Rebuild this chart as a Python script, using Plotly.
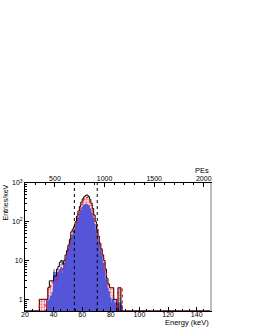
import plotly.graph_objects as go
import math

# ---- data (1 keV bins, low edges) ----
bin_low = list(range(30, 89))
black_total = [1, 1, 1, 1, 1, 1, 2, 3, 3, 3, 4, 4, 6, 7, 9, 10, 8, 10, 14, 18,
               25, 35, 55, 65, 75, 100, 140, 190, 250, 320, 390, 440, 480, 490, 450, 380, 300, 220, 150, 100,
               65, 42, 28, 20, 14, 10, 6, 3.5, 2.5, 2, 2, 2, 1, 1, 0, 2, 2, 0, 0]
red_series = [1, 1, 1, 1, 0, 1, 2, 2, 2.5, 3, 3, 3, 4, 5, 6, 6, 6, 8, 11, 15,
              21, 30, 45, 55, 65, 85, 120, 165, 215, 275, 340, 385, 420, 425, 395, 330, 265, 195, 135, 90,
              58, 38, 25, 18, 12, 9, 5, 3, 2, 2, 2, 2, 1, 1, 0, 2, 2, 2, 0]
lightblue_series = [0, 0, 0, 0, 0, 1, 1, 1.2, 1.5, 2, 6, 5, 5, 6, 6, 8, 6, 9, 12, 16,
                    22, 31, 42, 50, 60, 78, 102, 135, 172, 215, 255, 285, 298, 292, 272, 230, 183, 135, 96, 66,
                    45, 31, 21, 15, 10, 6.5, 4, 2.5, 2, 1.4, 1, 1.2, 1, 1, 0.8, 1, 1, 0.9, 0]
blue_series = [0, 0, 0, 0, 0, 0.9, 0.9, 1, 1.2, 1.5, 5, 4, 3.5, 5, 4.5, 6.5, 4.5, 8, 10, 14,
               20, 28, 38, 45, 55, 72, 95, 125, 160, 200, 240, 268, 280, 275, 255, 215, 170, 125, 88, 60,
               40, 28, 18, 13, 8.5, 5.5, 3.2, 2, 1.6, 1.1, 0.8, 1, 0.8, 0.8, 0.6, 0.8, 0.8, 0.7, 0]
bin_width = 1
x_range = [20, 150]
pe_range = [198, 2073]
cut_lines = [54.5, 70.5]
x_ticks = [20, 40, 60, 80, 100, 120, 140]
pe_ticks = [500, 1000, 1500, 2000]
y_ticks = [1, 10, 100, 1000]
y_ticktext = ["1", "10", "10<sup>2</sup>", "10<sup>3</sup>"]
y_min = 0.5

FONT = "Liberation Sans, Arial, sans-serif"
TICKFONT = dict(family=FONT, size=7, color="black")


def step_xy(values):
    xs, ys = [x_range[0]], [y_min]
    for lo, v in zip(bin_low, values):
        xs.append(lo)
        ys.append(v if v > 0 else y_min)
    xs.append(bin_low[-1] + bin_width)
    ys.append(y_min)
    xs.append(x_range[1])
    ys.append(y_min)
    return xs, ys


def bar_y(values):
    return [v if v > 0 else None for v in values]


centers = [b + bin_width / 2 for b in bin_low]

fig = go.Figure()

fig.add_trace(go.Bar(x=centers, y=bar_y(red_series), width=bin_width,
                     marker=dict(color="rgb(255,225,225)", line=dict(width=0),
                                 pattern=dict(shape=".", fgcolor="red", bgcolor="rgb(255,240,240)",
                                              size=3, solidity=0.45)),
                     showlegend=False, hoverinfo="skip"))
fig.add_trace(go.Bar(x=centers, y=bar_y(lightblue_series), width=bin_width,
                     marker=dict(color="rgb(175,185,240)", line=dict(width=0)),
                     showlegend=False, hoverinfo="skip"))
fig.add_trace(go.Bar(x=centers, y=bar_y(blue_series), width=bin_width,
                     marker=dict(color="rgb(85,85,215)", line=dict(width=0)),
                     showlegend=False, hoverinfo="skip"))

bx, by = step_xy(blue_series)
fig.add_trace(go.Scatter(x=bx, y=by, mode="lines", line=dict(color="rgb(85,85,215)", width=1, shape="hv"),
                         showlegend=False, hoverinfo="skip"))
kx, ky = step_xy(black_total)
fig.add_trace(go.Scatter(x=kx, y=ky, mode="lines", line=dict(color="black", width=1, shape="hv"),
                         showlegend=False, hoverinfo="skip"))
rx, ry = step_xy(red_series)
fig.add_trace(go.Scatter(x=rx, y=ry, mode="lines", line=dict(color="red", width=1, shape="hv", dash="dot"),
                         showlegend=False, hoverinfo="skip"))

fig.add_trace(go.Scatter(x=pe_range, y=[1, 1], xaxis="x2", mode="lines",
                         line=dict(width=0), opacity=0, showlegend=False, hoverinfo="skip"))

minor_y = [m * 10 ** d for d in range(-1, 3) for m in range(2, 10) if 0.5 <= m * 10 ** d <= 1000]

fig.update_layout(
    width=253, height=327,
    margin=dict(l=25, r=42, t=183, b=16, autoexpand=False),
    paper_bgcolor="white", plot_bgcolor="white",
    font=dict(family=FONT, size=7, color="black"),
    bargap=0, barmode="overlay",
    showlegend=False,
    xaxis=dict(range=x_range, tickvals=x_ticks, ticks="inside", ticklen=4, tickwidth=1,
               tickcolor="black", showline=True, linecolor="black", linewidth=1, mirror=True,
               showgrid=False, zeroline=False, tickfont=TICKFONT, automargin=False,
               ticklabelstandoff=-3,
               minor=dict(dtick=5, ticks="inside", ticklen=2, tickcolor="black")),
    xaxis2=dict(range=pe_range, overlaying="x", side="top", tickvals=pe_ticks, ticks="inside",
                ticklen=4, tickwidth=1, tickcolor="black", showgrid=False, zeroline=False,
                showline=False, tickfont=TICKFONT, automargin=False, ticklabelstandoff=0,
                minor=dict(dtick=100, tick0=0, ticks="inside", ticklen=2, tickcolor="black")),
    yaxis=dict(type="log", range=[math.log10(y_min), 3], tickvals=y_ticks, ticktext=y_ticktext,
               ticks="inside", ticklen=4, tickwidth=1, tickcolor="black", showline=True,
               linecolor="black", linewidth=1, mirror=True, showgrid=False, zeroline=False,
               tickfont=TICKFONT, automargin=False,
               minor=dict(tickvals=minor_y, ticks="inside", ticklen=2, tickcolor="black")),
)

for xv in cut_lines:
    fig.add_shape(type="line", xref="x", yref="paper", x0=xv, x1=xv, y0=0, y1=1,
                  line=dict(color="black", width=1, dash="dot"))

fig.add_shape(type="line", xref="paper", yref="paper", x0=1, x1=1, y0=0, y1=1,
              line=dict(color="rgb(190,190,190)", width=2))

fig.add_annotation(text="Energy (keV)", xref="paper", yref="paper", x=1, y=-0.088,
                   xanchor="right", yanchor="middle", showarrow=False,
                   font=dict(family=FONT, size=7.5, color="black"))
fig.add_annotation(text="PEs", xref="paper", yref="paper", x=1, y=1.094,
                   xanchor="right", yanchor="middle", showarrow=False,
                   font=dict(family=FONT, size=7.5, color="black"))
fig.add_annotation(text="Entries/keV", xref="paper", yref="paper", x=-0.11, y=1,
                   xanchor="center", yanchor="top", textangle=-90, showarrow=False,
                   font=dict(family=FONT, size=7, color="black"))

fig.write_html("out.html", config={"displayModeBar": False},
               post_script="document.body.style.margin='0';document.body.style.overflow='hidden';")
